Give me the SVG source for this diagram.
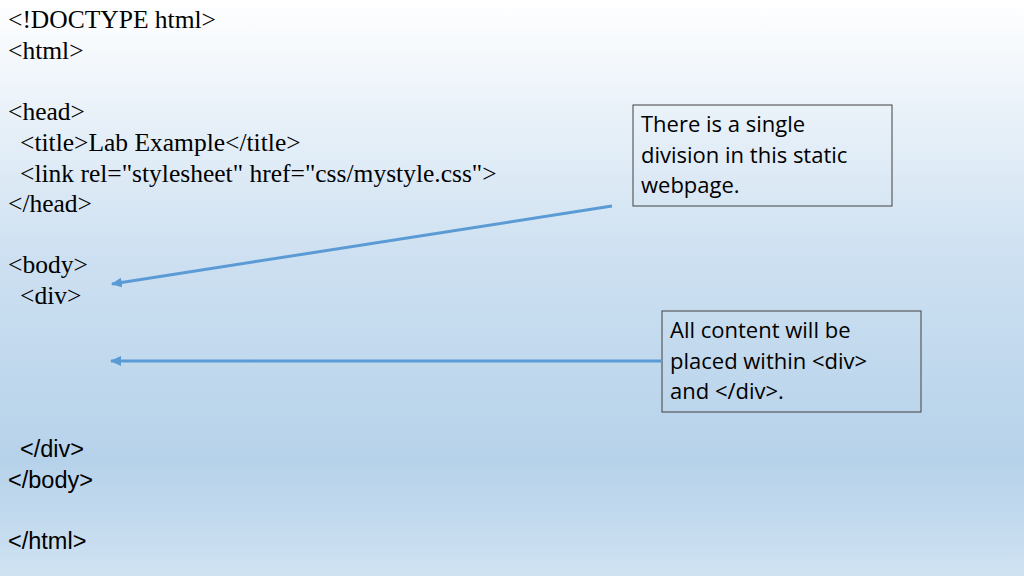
<svg xmlns="http://www.w3.org/2000/svg" width="1024" height="576" viewBox="0 0 1024 576">
<defs>
<linearGradient id="bg" x1="0" y1="0" x2="0" y2="1">
<stop offset="0" stop-color="#ffffff"/>
<stop offset="0.45" stop-color="#cde0f1"/>
<stop offset="0.8" stop-color="#b6d2ea"/>
<stop offset="1" stop-color="#cfe2f2"/>
</linearGradient>
<marker id="ah" markerWidth="11" markerHeight="10" refX="1" refY="5" orient="auto" markerUnits="userSpaceOnUse" viewBox="0 0 11 10"><path d="M11,0 L0,5 L11,10 z" fill="#5b9bd5"/></marker>
<style>
.c{font-family:"Liberation Serif",serif;font-size:25.5px;fill:#000}
.s{font-family:"Liberation Sans",sans-serif;font-size:23.5px;fill:#000}
.b{font-family:"Open Sans","Liberation Sans",sans-serif;font-size:22px;fill:#000}
.box{fill:none;stroke:#404040;stroke-width:1}
.ln{stroke:#5b9bd5;stroke-width:3;fill:none;marker-start:url(#ah)}
</style>
</defs>
<rect width="1024" height="576" fill="url(#bg)"/>
<g id="code">
<text class="c" x="8" y="28">&lt;!DOCTYPE html&gt;</text>
<text class="c" x="8" y="59">&lt;html&gt;</text>
<text class="c" x="8" y="120">&lt;head&gt;</text>
<text class="c" x="20" y="151">&lt;title&gt;Lab Example&lt;/title&gt;</text>
<text class="c" x="20" y="182">&lt;link rel="stylesheet" href="css/mystyle.css"&gt;</text>
<text class="c" x="8" y="212">&lt;/head&gt;</text>
<text class="c" x="8" y="273">&lt;body&gt;</text>
<text class="c" x="20" y="304">&lt;div&gt;</text>
<text class="s" x="20" y="457">&lt;/div&gt;</text>
<text class="s" x="8" y="488">&lt;/body&gt;</text>
<text class="s" x="8" y="549">&lt;/html&gt;</text>
</g>
<g id="note1">
<rect class="box" x="633" y="105" width="259" height="101"/>
<text class="b" x="641" y="132">There is a single</text>
<text class="b" x="641" y="163">division in this static</text>
<text class="b" x="641" y="193">webpage.</text>
</g>
<g id="note2">
<rect class="box" x="662" y="311" width="259" height="101"/>
<text class="b" x="670" y="338">All content will be</text>
<text class="b" x="670" y="369">placed within &lt;div&gt;</text>
<text class="b" x="670" y="399">and &lt;/div&gt;.</text>
</g>
<g id="connectors">
<line class="ln" x1="112" y1="284" x2="612" y2="206"/>
<line class="ln" x1="111" y1="361" x2="662" y2="361"/>
</g>
</svg>
